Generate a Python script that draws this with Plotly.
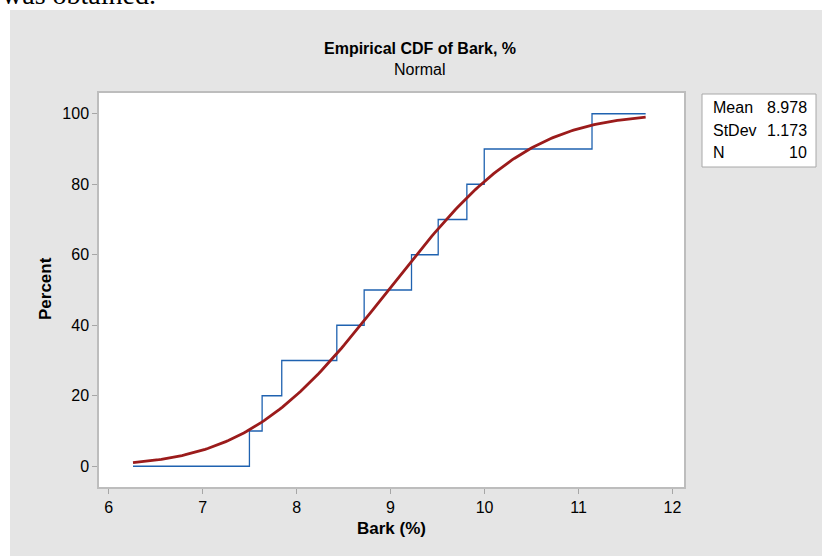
import math
import numpy as np
import plotly.graph_objects as go

# ---- data ----
bark_values = [7.498, 7.633, 7.842, 8.428, 8.719, 9.223, 9.507, 9.812, 9.997, 11.144]
percent_levels = [10, 20, 30, 40, 50, 60, 70, 80, 90, 100]
curve_start = 6.259
curve_end = 11.715
mean_val = 8.978
stdev_val = 1.173
n_val = 10
x_ticks = [6, 7, 8, 9, 10, 11, 12]
y_ticks = [0, 20, 40, 60, 80, 100]

# step function (empirical CDF)
step_x = [curve_start] + bark_values + [curve_end]
step_y = [0] + percent_levels + [percent_levels[-1]]

# fitted normal CDF from the displayed parameters
cx = np.linspace(curve_start, curve_end, 200)
cy = [50.0 * (1.0 + math.erf((v - mean_val) / (stdev_val * math.sqrt(2)))) for v in cx]

W, H = 822, 556
L, R, T, B = 99, 684, 93, 487
pw, ph = R - L, B - T

def px(x):
    return (x - L) / pw

def py(y):
    return (B - y) / ph

FONT = "Liberation Sans, Arial, sans-serif"
GRAY_BG = "#E5E5E5"

fig = go.Figure()
fig.add_trace(go.Scatter(x=step_x, y=step_y, mode="lines", line=dict(shape="hv", color="#1F62B0", width=1.3),
                         showlegend=False, hoverinfo="skip"))
fig.add_trace(go.Scatter(x=cx, y=cy, mode="lines", line=dict(color="#9B1B1B", width=2.8),
                         showlegend=False, hoverinfo="skip"))

shapes = [
    dict(type="rect", xref="paper", yref="paper", x0=-0.3, x1=1.5, y0=py(10), y1=py(-20),
         fillcolor="white", line=dict(width=0), layer="above"),
    dict(type="rect", xref="paper", yref="paper", x0=px(-20), x1=px(10), y0=py(600), y1=py(-20),
         fillcolor="white", line=dict(width=0), layer="above"),
    dict(type="rect", xref="paper", yref="paper", x0=px(702), x1=px(816), y0=py(167), y1=py(94),
         fillcolor="white", line=dict(color="#A8A8A8", width=1), layer="above"),
]

ann = []
ann.append(dict(text="was obtained.", x=px(0), y=py(12), xref="paper", yref="paper",
                xanchor="left", yanchor="bottom", showarrow=False,
                font=dict(family="Liberation Serif, Times New Roman, serif", size=28, color="black")))
ann.append(dict(text="<b>Empirical CDF of Bark, %</b>", x=px(420), y=py(48), xref="paper", yref="paper",
                xanchor="center", yanchor="middle", showarrow=False, font=dict(family=FONT, size=16, color="black")))
ann.append(dict(text="Normal", x=px(420), y=py(69), xref="paper", yref="paper",
                xanchor="center", yanchor="middle", showarrow=False, font=dict(family=FONT, size=16, color="black")))
ann.append(dict(text="<b>Bark (%)</b>", x=px(391.5), y=py(528), xref="paper", yref="paper",
                xanchor="center", yanchor="middle", showarrow=False, font=dict(family=FONT, size=17, color="black")))
ann.append(dict(text="<b>Percent</b>", x=px(45), y=py(289), xref="paper", yref="paper", textangle=-90,
                xanchor="center", yanchor="middle", showarrow=False, font=dict(family=FONT, size=17, color="black")))

stat_labels = ["Mean", "StDev", "N"]
stat_values = [f"{mean_val:.3f}", f"{stdev_val:.3f}", f"{n_val}"]
stat_rows = [108, 130.5, 152.5]
for lab, val, yy in zip(stat_labels, stat_values, stat_rows):
    ann.append(dict(text=lab, x=px(711), y=py(yy), xref="paper", yref="paper",
                    xanchor="left", yanchor="middle", showarrow=False, font=dict(family=FONT, size=16, color="black")))
    ann.append(dict(text=val, x=px(809), y=py(yy), xref="paper", yref="paper",
                    xanchor="right", yanchor="middle", showarrow=False, font=dict(family=FONT, size=16, color="black")))

axis_common = dict(showgrid=False, zeroline=False, showline=True, mirror=True, linecolor="#BDBDBD", linewidth=1.5,
                   ticks="outside", ticklen=5, tickwidth=1, tickcolor="#A6A6A6",
                   tickfont=dict(family=FONT, size=16, color="black"))

fig.update_layout(
    width=W, height=H,
    margin=dict(l=L, r=W - R, t=T, b=H - B),
    paper_bgcolor=GRAY_BG, plot_bgcolor="white",
    xaxis=dict(range=[5.897, 12.123], tickvals=x_ticks, **axis_common),
    yaxis=dict(range=[-5.88, 105.88], tickvals=y_ticks, **axis_common),
    shapes=shapes, annotations=ann, showlegend=False,
)

fig.write_html("out.html")
